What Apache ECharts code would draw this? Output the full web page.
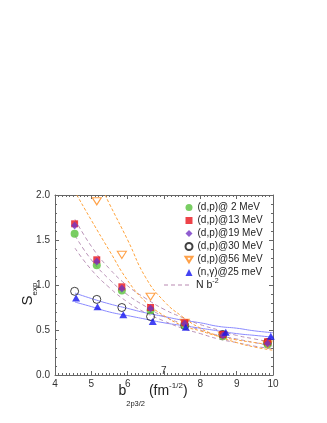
<!DOCTYPE html>
<html>
<head>
<meta charset="utf-8">
<script src="https://cdn.jsdelivr.net/npm/echarts@6.0.0/dist/echarts.min.js"></script>
<style>
html,body{margin:0;padding:0;background:#fff}
#chart{width:327px;height:423px}
</style>
</head>
<body>
<div id="chart"></div>
<script>
// measured points
var xDp = [4.54, 5.15, 5.84, 6.63, 7.57, 8.62, 9.85];
var xNg = [4.58, 5.17, 5.88, 6.69, 7.60, 8.70, 9.94];
var x56 = [5.15, 5.84, 6.63, 7.57, 8.62, 9.85];

var dp2 = [1.57, 1.22, 0.94, 0.72, 0.55, 0.43, 0.34];
var dp13 = [1.68, 1.28, 0.98, 0.75, 0.58, 0.45, 0.37];
var dp19 = [1.66, 1.26, 0.96, 0.74, 0.57, 0.44, 0.35];
var dp30 = [0.93, 0.84, 0.75, 0.65, 0.55, 0.45, 0.36];
var dp56 = [1.93, 1.335, 0.87, 0.58, 0.44, 0.34];
var ng25 = [0.855, 0.758, 0.669, 0.595, 0.53, 0.475, 0.43];

// curves
var xCurve = [4.55, 5.0, 5.5, 6.0, 6.5, 7.0, 7.5, 8.0, 8.5, 9.0, 9.5, 10.0];
var nb2a = [1.73, 1.43, 1.18, 0.99, 0.85, 0.73, 0.64, 0.56, 0.50, 0.44, 0.40, 0.36];
var nb2b = [1.55, 1.28, 1.06, 0.89, 0.76, 0.65, 0.57, 0.50, 0.44, 0.40, 0.36, 0.32];
var nb2c = [1.41, 1.17, 0.97, 0.81, 0.69, 0.60, 0.52, 0.46, 0.40, 0.36, 0.32, 0.29];
var ngHi = [0.91, 0.85, 0.79, 0.74, 0.69, 0.65, 0.61, 0.58, 0.54, 0.52, 0.49, 0.47];
var ngLo = [0.81, 0.76, 0.70, 0.66, 0.62, 0.58, 0.55, 0.52, 0.49, 0.46, 0.44, 0.42];

var xOrA = [4.6, 5.0, 5.5, 6.0, 6.5, 7.0, 7.5, 8.0, 8.5, 9.0, 9.5, 10.0];
var orA = [2.0, 1.72, 1.38, 1.05, 0.81, 0.66, 0.55, 0.49, 0.43, 0.39, 0.36, 0.33];
var xOrB = [5.38, 5.5, 6.0, 6.5, 7.0, 7.5, 8.0, 8.5, 9.0, 9.5, 10.0];
var orB = [2.0, 1.9, 1.5, 1.08, 0.82, 0.65, 0.52, 0.43, 0.36, 0.31, 0.275];

var xTicks = [4, 5, 6, 7, 8, 9, 10];
var yTicks = ['0.0', '0.5', '1.0', '1.5', '2.0'];

function pairs(xs, ys) {
    return xs.map(function (x, i) { return [x, ys[i]]; });
}

var font = 'Liberation Sans, Arial, sans-serif';
var purpleDash = {color: '#b891b6', width: 1, type: [4, 3]};
var orangeDash = {color: '#ffa23a', width: 1, type: [3, 2]};
var blueLine = {color: '#8a8aff', width: 1};
// downward open triangle
var triDown = 'path://M0,0L10,0L5,8Z';

function curve(name, xs, ys, style) {
    return {
        name: name, type: 'line', data: pairs(xs, ys), smooth: true,
        symbol: 'none', lineStyle: style, itemStyle: {color: style.color},
        silent: true, z: 1
    };
}

function pts(name, xs, ys, symbol, size, style) {
    return {
        name: name, type: 'scatter', data: pairs(xs, ys), symbol: symbol,
        symbolSize: size, itemStyle: style, z: 3
    };
}

var axisBase = {
    type: 'value',
    axisLine: {show: true, onZero: false, lineStyle: {color: '#666'}},
    axisTick: {show: true, inside: true, length: 4, lineStyle: {color: '#666'}},
    minorTick: {show: true, inside: true, length: 2, lineStyle: {color: '#666'}},
    splitLine: {show: false}
};

function ax(extra) {
    return Object.assign({}, axisBase, extra);
}

var chart = echarts.init(document.getElementById('chart'));
chart.setOption({
    animation: false,
    textStyle: {fontFamily: font},
    grid: {left: 55, right: 54, top: 195, bottom: 48},
    xAxis: [
        ax({
            position: 'bottom', min: 4, max: 10, interval: 1,
            minorTick: Object.assign({splitNumber: 10}, axisBase.minorTick),
            axisLabel: {
                fontSize: 10, color: '#333', margin: 4, fontFamily: font,
                formatter: function (v) { return v === 7 ? '' : String(xTicks[v - 4]); }
            },
            name: '{m|b}{sub|2p3/2}{m| (fm}{sup|-1/2}{m|)}',
            nameLocation: 'middle', nameGap: -1, nameMoveOverlap: false,
            nameTextStyle: {
                color: '#222', fontFamily: font, padding: [0, 22, 0, 0],
                rich: {
                    m: {fontSize: 14, lineHeight: 34, color: '#222', fontFamily: font},
                    sub: {fontSize: 7.5, verticalAlign: 'bottom', color: '#222', fontFamily: font},
                    sup: {fontSize: 8, padding: [8, 0, 0, 0], verticalAlign: 'top', color: '#222', fontFamily: font}
                }
            }
        }),
        ax({
            position: 'top', min: 4, max: 10, interval: 1,
            minorTick: Object.assign({splitNumber: 10}, axisBase.minorTick),
            axisLabel: {show: false}
        })
    ],
    yAxis: [
        ax({
            position: 'left', min: 0, max: 2, interval: 0.5,
            minorTick: Object.assign({splitNumber: 5}, axisBase.minorTick),
            axisLabel: {
                fontSize: 10, color: '#333', margin: 5, fontFamily: font,
                formatter: function (v) { return yTicks[Math.round(v * 2)]; }
            },
            name: '{m|S}{sub|exp}',
            nameLocation: 'middle', nameGap: 16, nameMoveOverlap: false,
            nameTextStyle: {
                color: '#222', fontFamily: font, padding: [0, 18, 0, 0],
                rich: {
                    m: {fontSize: 15, lineHeight: 22, color: '#222', fontFamily: font},
                    sub: {fontSize: 8, verticalAlign: 'bottom', color: '#222', fontFamily: font}
                }
            }
        }),
        ax({
            position: 'right', min: 0, max: 2, interval: 0.5,
            minorTick: Object.assign({splitNumber: 5}, axisBase.minorTick),
            axisLabel: {show: false}
        })
    ],
    legend: [
        {
            orient: 'vertical', left: 184.5, top: 201, padding: 0,
            itemWidth: 7, itemHeight: 7, itemGap: 0,
            textStyle: {fontSize: 10, color: '#222', lineHeight: 13, fontFamily: font},
            data: ['(d,p)@ 2 MeV', '(d,p)@13 MeV', '(d,p)@19 MeV', '(d,p)@30 MeV', '(d,p)@56 MeV', '(n,\u03b3)@25 meV']
        },
        {
            orient: 'vertical', left: 163, top: 278, padding: 0,
            itemWidth: 27, itemHeight: 12, itemGap: 0,
            formatter: function () { return '{t|N b}{s|-2}'; },
            textStyle: {
                fontSize: 10, color: '#222', fontFamily: font,
                rich: {
                    t: {fontSize: 10.5, lineHeight: 14, color: '#222', fontFamily: font},
                    s: {fontSize: 7, verticalAlign: 'top', color: '#222', fontFamily: font}
                }
            },
            data: [{
                name: 'Nb2',
                itemStyle: {color: 'rgba(0,0,0,0)', borderWidth: 0, opacity: 0},
                lineStyle: {width: 2, color: '#dcc4d8', type: [4, 3]}
            }]
        }
    ],
    graphic: [
        {type: 'text', left: 161, top: 366, style: {text: '7', fontSize: 10, fill: '#333', fontFamily: font}}
    ],
    series: [
        curve('fitNgHi', xCurve, ngHi, blueLine),
        curve('fitNgLo', xCurve, ngLo, blueLine),
        curve('Nb2', xCurve, nb2a, purpleDash),
        curve('Nb2', xCurve, nb2b, purpleDash),
        curve('Nb2', xCurve, nb2c, purpleDash),
        curve('fit56a', xOrA, orA, orangeDash),
        curve('fit56b', xOrB, orB, orangeDash),
        pts('(d,p)@30 MeV', xDp, dp30, 'circle', 8, {color: 'rgba(255,255,255,0)', borderColor: '#111', borderWidth: 1}),
        pts('(d,p)@ 2 MeV', xDp, dp2, 'circle', 8, {color: '#58c23c'}),
        pts('(d,p)@56 MeV', x56, dp56, triDown, [9, 7], {color: 'rgba(255,255,255,0)', borderColor: '#ff8a1a', borderWidth: 1.1}),
        pts('(d,p)@13 MeV', xDp, dp13, 'rect', 7, {color: '#e8141c'}),
        pts('(d,p)@19 MeV', xDp, dp19, 'diamond', [7, 8], {color: '#7434c4'}),
        pts('(n,\u03b3)@25 meV', xNg, ng25, 'triangle', [8, 7], {color: '#1414f0'})
    ]
});
</script>
</body>
</html>
